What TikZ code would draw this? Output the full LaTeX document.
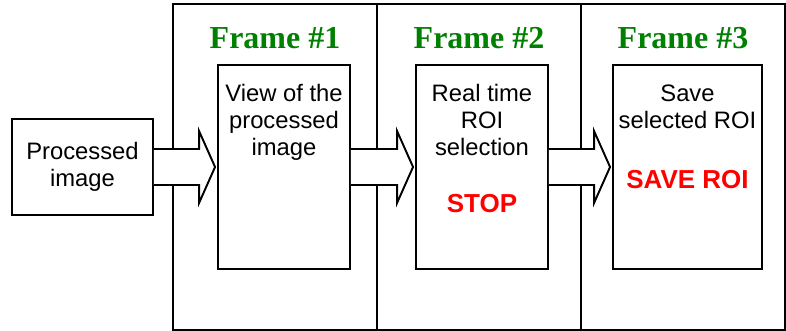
\documentclass[tikz,border=0pt]{standalone}
\usepackage{fontspec}
\setmainfont{Liberation Sans}
\newfontfamily\titlefont{Liberation Serif}
\usepackage{xcolor}
\usetikzlibrary{calc, positioning}

\definecolor{framegreen}{RGB}{0,128,0}

\tikzset{
  framebox/.style={draw, line width=1.9pt, minimum width=204, minimum height=326, outer sep=0pt},
  stepbox/.style={draw, line width=1.9pt, fill=white, minimum height=204, inner sep=0pt},
  frametitle/.style={text=framegreen, font=\titlefont\bfseries\fontsize{32}{36}\selectfont, inner sep=0pt},
  boxtext/.style={align=center, font=\fontsize{23.8}{27}\selectfont, inner sep=0pt},
  redtext/.style={text=red, font=\bfseries\fontsize{26}{30}\selectfont, inner sep=0pt},
  fatarrow/.style={draw=black, fill=white, line width=1.9pt, line join=miter}
}

% bloc fleche entre deux boites
\newcommand{\fatarrow}[2]{%
  \filldraw[fatarrow] ($(#1.east)+(0,-18)$) -- ($(#2.west)+(-18,-18)$)
    -- ($(#2.west)+(-18,-36)$) -- ($(#2.west)+(-2,0)$)
    -- ($(#2.west)+(-18,36)$) -- ($(#2.west)+(-18,18)$)
    -- ($(#1.east)+(0,18)$);}

\begin{document}
\begin{tikzpicture}[x=1pt, y=-1pt]
    \useasboundingbox (0,0) rectangle (786,331);

    % Les trois cadres
    \node[framebox] (f1) at (275,167) {};
    \node[framebox, right=0pt of f1] (f2) {};
    \node[framebox, right=0pt of f2] (f3) {};

    \node[frametitle, anchor=base] (t1) at ($(f1.north)+(0,45)$) {Frame \#1};
    \node[frametitle, anchor=base] (t2) at ($(f2.north)+(0,45)$) {Frame \#2};
    \node[frametitle, anchor=base] (t3) at ($(f3.north)+(0,45)$) {Frame \#3};

    % Image d'entree
    \node[stepbox, minimum width=141, minimum height=96] (input) at (82.5,167) {};
    \node[boxtext] (inputtext) at (input.center) {Processed\\image};

    % Contenu des cadres
    \node[stepbox, minimum width=132] (view) at (284,167) {};
    \node[stepbox, minimum width=132] (roi) at (482,167) {};
    \node[stepbox, minimum width=149] (save) at (687.5,167) {};

    \node[boxtext, anchor=north] (viewtext) at ($(view.north)+(0,20.5)$) {View of the\\processed\\image};
    \node[boxtext, anchor=north] (roitext) at ($(roi.north)+(0,20.5)$) {Real time\\ROI\\selection};
    \node[boxtext, anchor=north] (savetext) at ($(save.north)+(0,20.5)$) {Save\\selected ROI};

    \node[redtext, anchor=base] (stop) at ($(roi.north)+(0,148)$) {STOP};
    \node[redtext, anchor=base] (saveroi) at ($(save.north)+(0,124)$) {SAVE ROI};

    % Fleches
    \fatarrow{input}{view}
    \fatarrow{view}{roi}
    \fatarrow{roi}{save}
\end{tikzpicture}
\end{document}
